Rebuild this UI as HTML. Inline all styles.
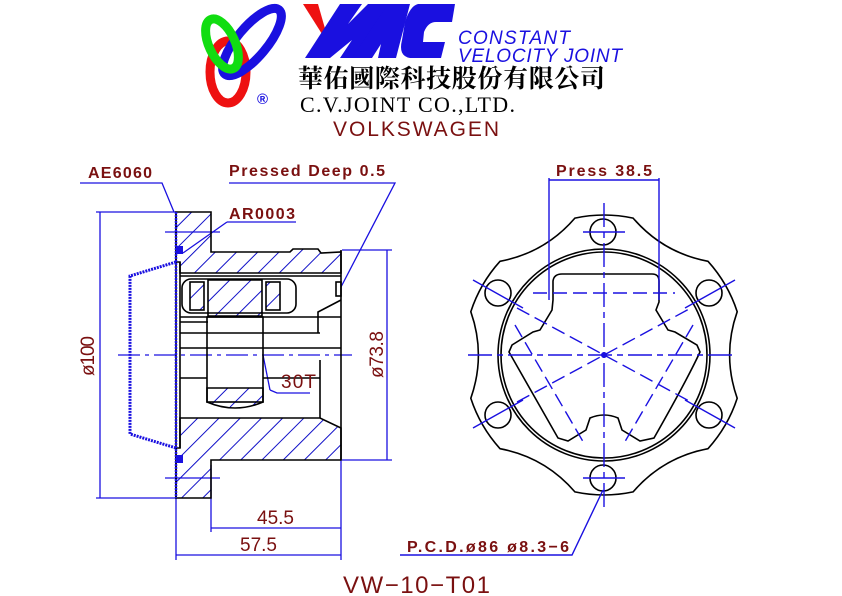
<!DOCTYPE html>
<html><head><meta charset="utf-8"><style>
html,body{margin:0;padding:0;background:#fff;}
svg{display:block;}
text{font-family:"Liberation Sans",sans-serif;}
</style></head><body>
<svg width="842" height="596" viewBox="0 0 842 596" xmlns="http://www.w3.org/2000/svg">
<defs>
<pattern id="h" width="15" height="15" patternUnits="userSpaceOnUse" patternTransform="rotate(45)">
<line x1="0" y1="0" x2="0" y2="15" stroke="#1010c8" stroke-width="2"/>
</pattern>
</defs>
<!-- LOGO -->
<g fill="none" stroke-width="9">
<ellipse cx="228" cy="72" rx="18" ry="31" stroke="#ee1111"/>
<ellipse cx="252" cy="42" rx="15" ry="42" transform="rotate(40 252 42)" stroke="#1a10e0"/>
<ellipse cx="222" cy="44" rx="13" ry="27" transform="rotate(-25 222 44)" stroke="#11dd11"/>
</g>
<text x="257" y="104" font-size="15" fill="#1a10e0" font-weight="bold">®</text>
<polygon points="303,4 318,4 326,32 322,34" fill="#ee1111"/>
<g fill="#1a10e0">
<polygon points="305,58 340,4 362,4 348,24 368,4 395,4 362,58 340,58 352,40 330,58"/>
<polygon points="352,58 388,4 410,4 396,58 378,58 381,44 372,58"/>
<path d="M418,4 L455,4 L452,22 L436,22 Q428,22 424,32 L423,42 L445,42 L441,58 L410,58 Q398,56 402,40 L405,22 Q410,6 418,4Z"/>
</g>
<text x="458" y="44" font-size="19" font-style="italic" fill="#1a10e0" textLength="112">CONSTANT</text>
<text x="458" y="62" font-size="19" font-style="italic" fill="#1a10e0" textLength="164">VELOCITY  JOINT</text>
<text x="298" y="87" font-size="25" font-weight="bold" fill="#000" textLength="307" style="font-family:'Liberation Serif','Noto Serif CJK TC','Noto Serif CJK SC',serif">華佑國際科技股份有限公司</text>
<text x="300" y="112" font-size="22" fill="#000" textLength="215" style="font-family:'Liberation Serif',serif">C.V.JOINT CO.,LTD.</text>
<text x="333" y="136" font-size="21" fill="#7a1010" textLength="166">VOLKSWAGEN</text>

<!-- LEFT VIEW -->
<g stroke="#1a10e0" stroke-width="1.3" fill="none">
<line x1="118" y1="355" x2="352" y2="355" stroke-dasharray="22,5,4,5"/>
<line x1="96" y1="212" x2="176" y2="212"/><line x1="96" y1="498" x2="176" y2="498"/>
<line x1="100" y1="212" x2="100" y2="498"/>
<line x1="342" y1="250" x2="392" y2="250"/><line x1="342" y1="460" x2="392" y2="460"/>
<line x1="387" y1="250" x2="387" y2="460"/>
<line x1="211" y1="465" x2="211" y2="532"/><line x1="341" y1="460" x2="341" y2="560"/>
<line x1="176" y1="498" x2="176" y2="560"/>
<line x1="211" y1="528" x2="341" y2="528"/>
<line x1="176" y1="555" x2="341" y2="555"/>
<polyline points="80,183 162,183 174,212"/>
<polyline points="227,222 296,222"/>
<line x1="227" y1="222" x2="183" y2="253"/>
<polyline points="229,183 395,183 341,287"/>
<polyline points="270,390 277,393 310,393"/>
<line x1="263" y1="355" x2="270" y2="390"/>
<line x1="165" y1="232" x2="220" y2="232"/><line x1="165" y1="478" x2="220" y2="478"/>
</g>
<g fill="url(#h)" stroke="#000" stroke-width="1.6">
<path d="M176,212 L211,212 L211,252 L290,252 L293,249 L318,249 L321,253 L341,252 L341,273 L180,273 L180,262 L176,262Z"/>
<path d="M208,280 L262,280 L262,316 L208,316Z"/>
<path d="M176,448 L180,448 L180,418 L320,418 L341,428 L341,460 L211,460 L211,465 L211,498 L176,498Z"/>
<path d="M207,388 L263,388 L263,402 Q235,414 207,402Z"/>
</g>
<g fill="none" stroke="#000" stroke-width="1.6">
<line x1="180" y1="276" x2="341" y2="276"/>
<rect x="182" y="279" width="114" height="34" rx="9"/>
<rect x="190" y="282" width="14" height="28" fill="url(#h)"/>
<rect x="266" y="282" width="14" height="28" fill="url(#h)"/>
<line x1="180" y1="317" x2="341" y2="317"/>
<line x1="180" y1="322" x2="208" y2="322"/>
<rect x="207" y="317" width="56" height="85"/>
<line x1="180" y1="333" x2="320" y2="333"/>
<line x1="180" y1="348" x2="341" y2="348"/>
<line x1="180" y1="378" x2="207" y2="378"/>
<line x1="263" y1="378" x2="320" y2="378"/>
<polyline points="318,333 318,312 341,300"/>
<line x1="320" y1="360" x2="320" y2="418"/>
<line x1="341" y1="250" x2="341" y2="460"/>
<rect x="336" y="282" width="5" height="14"/>
<line x1="180" y1="262" x2="180" y2="448"/>
<line x1="176" y1="212" x2="176" y2="498"/>
</g>
<path d="M176,262 L130,276 L130,434 L176,448" fill="none" stroke="#1a10e0" stroke-width="3" stroke-dasharray="2,1"/>
<path d="M176,212 L176,498" stroke="#1a10e0" stroke-width="2.5" stroke-dasharray="2,1"/>
<rect x="176" y="246" width="7" height="8" fill="#1a10e0"/>
<rect x="176" y="455" width="7" height="8" fill="#1a10e0"/>

<!-- RIGHT VIEW -->
<g fill="none" stroke="#000" stroke-width="1.6">
<path d="M574.9,218.1 A140,140 0 0 1 633.1,218.1 Q663,252.8 708,261.3 A140,140 0 0 1 737.2,311.7 Q722,355 737.2,398.3 A140,140 0 0 1 708,448.7 Q663,457.2 633.1,491.9 A140,140 0 0 1 574.9,491.9 Q545,457.2 500,448.7 A140,140 0 0 1 470.8,398.3 Q486,355 470.8,311.7 A140,140 0 0 1 500,261.3 Q545,252.8 574.9,218.1Z"/>
<circle cx="604" cy="355" r="106"/>
<circle cx="604" cy="355" r="103"/>
<circle cx="603" cy="232" r="13"/><circle cx="603" cy="478" r="13"/>
<circle cx="498" cy="293" r="13"/><circle cx="709" cy="293" r="13"/>
<circle cx="498" cy="415" r="13"/><circle cx="709" cy="415" r="13"/>
<path d="M553,300 L553,281 Q554,274 562,274 L652,274 Q659,274 659,281 L659,302 L656,310 Q662,320 668,330 L675,332 L697,345 L700,352 Q687,380 654,438 L640,441 L622,430 L618,418 Q604,412 590,418 L586,430 L568,441 L558,438 Q525,380 509,352 L512,345 L533,332 L540,330 Q546,320 552,310Z"/>
</g>
<g stroke="#1a10e0" stroke-width="1.4" fill="none">
<line x1="604" y1="203" x2="604" y2="510" stroke-dasharray="24,5,6,5"/>
<line x1="468" y1="355" x2="735" y2="355" stroke-dasharray="24,5,6,5"/>
<line x1="533" y1="293" x2="675" y2="293" stroke-dasharray="14,6"/>
<line x1="517" y1="308" x2="691" y2="402" stroke-dasharray="14,6"/>
<line x1="517" y1="402" x2="691" y2="308" stroke-dasharray="14,6"/>
<line x1="515" y1="325" x2="585" y2="445" stroke-dasharray="14,6"/>
<line x1="693" y1="325" x2="623" y2="445" stroke-dasharray="14,6"/>
<line x1="473" y1="280" x2="523" y2="308"/><line x1="735" y1="280" x2="685" y2="308"/>
<line x1="473" y1="428" x2="523" y2="400"/><line x1="735" y1="428" x2="685" y2="400"/>
<line x1="583" y1="232" x2="625" y2="232"/><line x1="583" y1="478" x2="625" y2="478"/>
<line x1="549" y1="178" x2="549" y2="300"/><line x1="659" y1="178" x2="659" y2="300"/>
<line x1="549" y1="180" x2="659" y2="180"/>
<polyline points="400,555 572,555 603,490"/>
</g>
<circle cx="604" cy="355" r="3" fill="#1a10e0"/>

<g fill="#7a1010" font-weight="bold" font-size="16">
<text x="88" y="178" textLength="64">AE6060</text>
<text x="229" y="176" textLength="156">Pressed Deep 0.5</text>
<text x="229" y="219" textLength="66">AR0003</text>
<text x="281" y="388" font-size="19" font-weight="normal" textLength="35">30T</text>
<text x="257" y="524" font-size="19" font-weight="normal" textLength="37">45.5</text>
<text x="240" y="551" font-size="19" font-weight="normal" textLength="37">57.5</text>
<text x="556" y="176" textLength="96">Press 38.5</text>
<text x="407" y="552" textLength="162">P.C.D.ø86 ø8.3−6</text>
<text transform="translate(94,376) rotate(-90)" font-size="19" font-weight="normal" textLength="40">ø100</text>
<text transform="translate(383,378) rotate(-90)" font-size="19" font-weight="normal" textLength="47">ø73.8</text>
</g>
<text x="343" y="593" font-size="24" fill="#7a1010" textLength="147">VW−10−T01</text>
</svg>
</body></html>
